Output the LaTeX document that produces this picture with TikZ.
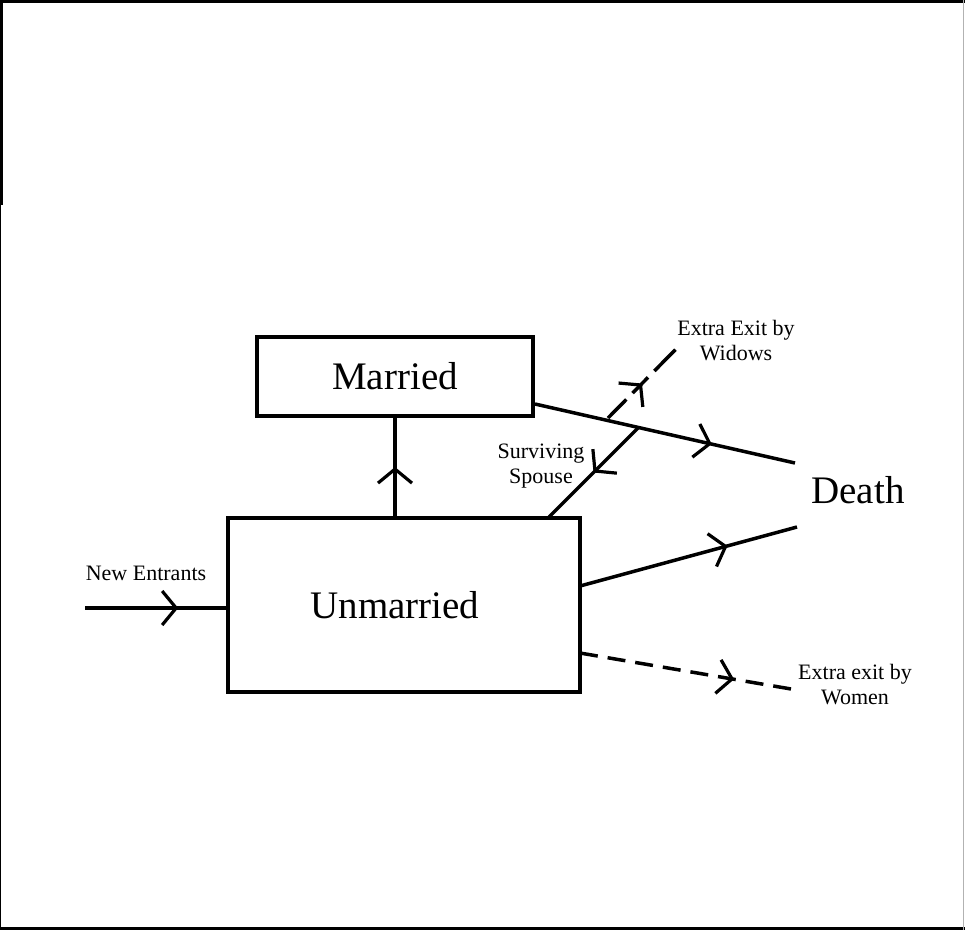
\documentclass[tikz,border=0pt]{standalone}
\usepackage{fontspec}
\setmainfont{Liberation Serif}
\usetikzlibrary{arrows.meta,decorations.markings}
\begin{document}
\begin{tikzpicture}[x=1pt,y=-1pt,
  flow/.style={line width=3.5pt},
  dflow/.style={line width=3.5pt,dash pattern=on 18pt off 10pt},
  midarrow/.style={postaction={decorate},decoration={markings,
    mark=at position #1 with {\arrow[line width=3.2pt]{Straight Barb[length=14pt,width=34pt]}}}},
  box/.style={draw,line width=3.5pt,inner sep=0pt},
  big/.style={font=\fontsize{39}{44}\selectfont},
  small/.style={font=\fontsize{22}{25}\selectfont,align=center}]
\useasboundingbox (0,0) rectangle (965,930);
% frame
\draw[line width=3pt] (0,1.5) -- (965,1.5);
\draw[line width=3pt] (0,928.5) -- (965,928.5);
\draw[line width=3pt] (1.5,0) -- (1.5,205);
\draw[line width=1pt] (0.5,205) -- (0.5,930);
\draw[line width=1pt,gray!60] (963.5,0) -- (963.5,930);
% boxes
\node[box,minimum width=276pt,minimum height=79pt] (mar) at (395,376.5) {};
\node[big] at (mar.center) {Married};
\node[box,minimum width=352pt,minimum height=174pt] (unm) at (404,605) {};
\node[big] at (395,605) {Unmarried};
\node[big] (death) at (858,490) {Death};
% coordinates
\coordinate (ne) at (85,608);
\coordinate (md) at (795,463);
\coordinate (ud) at (797,527);
\coordinate (ew) at (797,690);
\coordinate (sp) at (638,428);
\coordinate (wa) at (608,418);
\coordinate (wb) at (676,349);
\coordinate (ms) at (535,404);
\coordinate (us) at (580,586);
\coordinate (ws) at (580,653);
\coordinate (ss) at (549,517);
% flows
\draw[flow,midarrow=0.66] (ne) -- (unm.west |- ne);
\draw[flow,midarrow=0.5] (unm.north -| mar.south) -- (mar.south);
\draw[flow,midarrow=0.68] (ms) -- (md);
\draw[flow,midarrow=0.68] (us) -- (ud);
\draw[dflow,midarrow=0.71] (ws) -- (ew);
\draw[flow,midarrow=0.5] (sp) -- (ss);
\draw[dflow,dash pattern=on 26pt off 9pt on 22pt off 9pt on 30pt,midarrow=0.5] (wa) -- (wb);
% labels
\node[small] (lne) at (146,573) {New Entrants};
\node[small] (lsp) at (541,466) {Surviving\\Spouse};
\node[small] (lw) at (736,341) {Extra Exit by\\Widows};
\node[small] (lwm) at (855,685) {Extra exit by\\Women};
\end{tikzpicture}
\end{document}
